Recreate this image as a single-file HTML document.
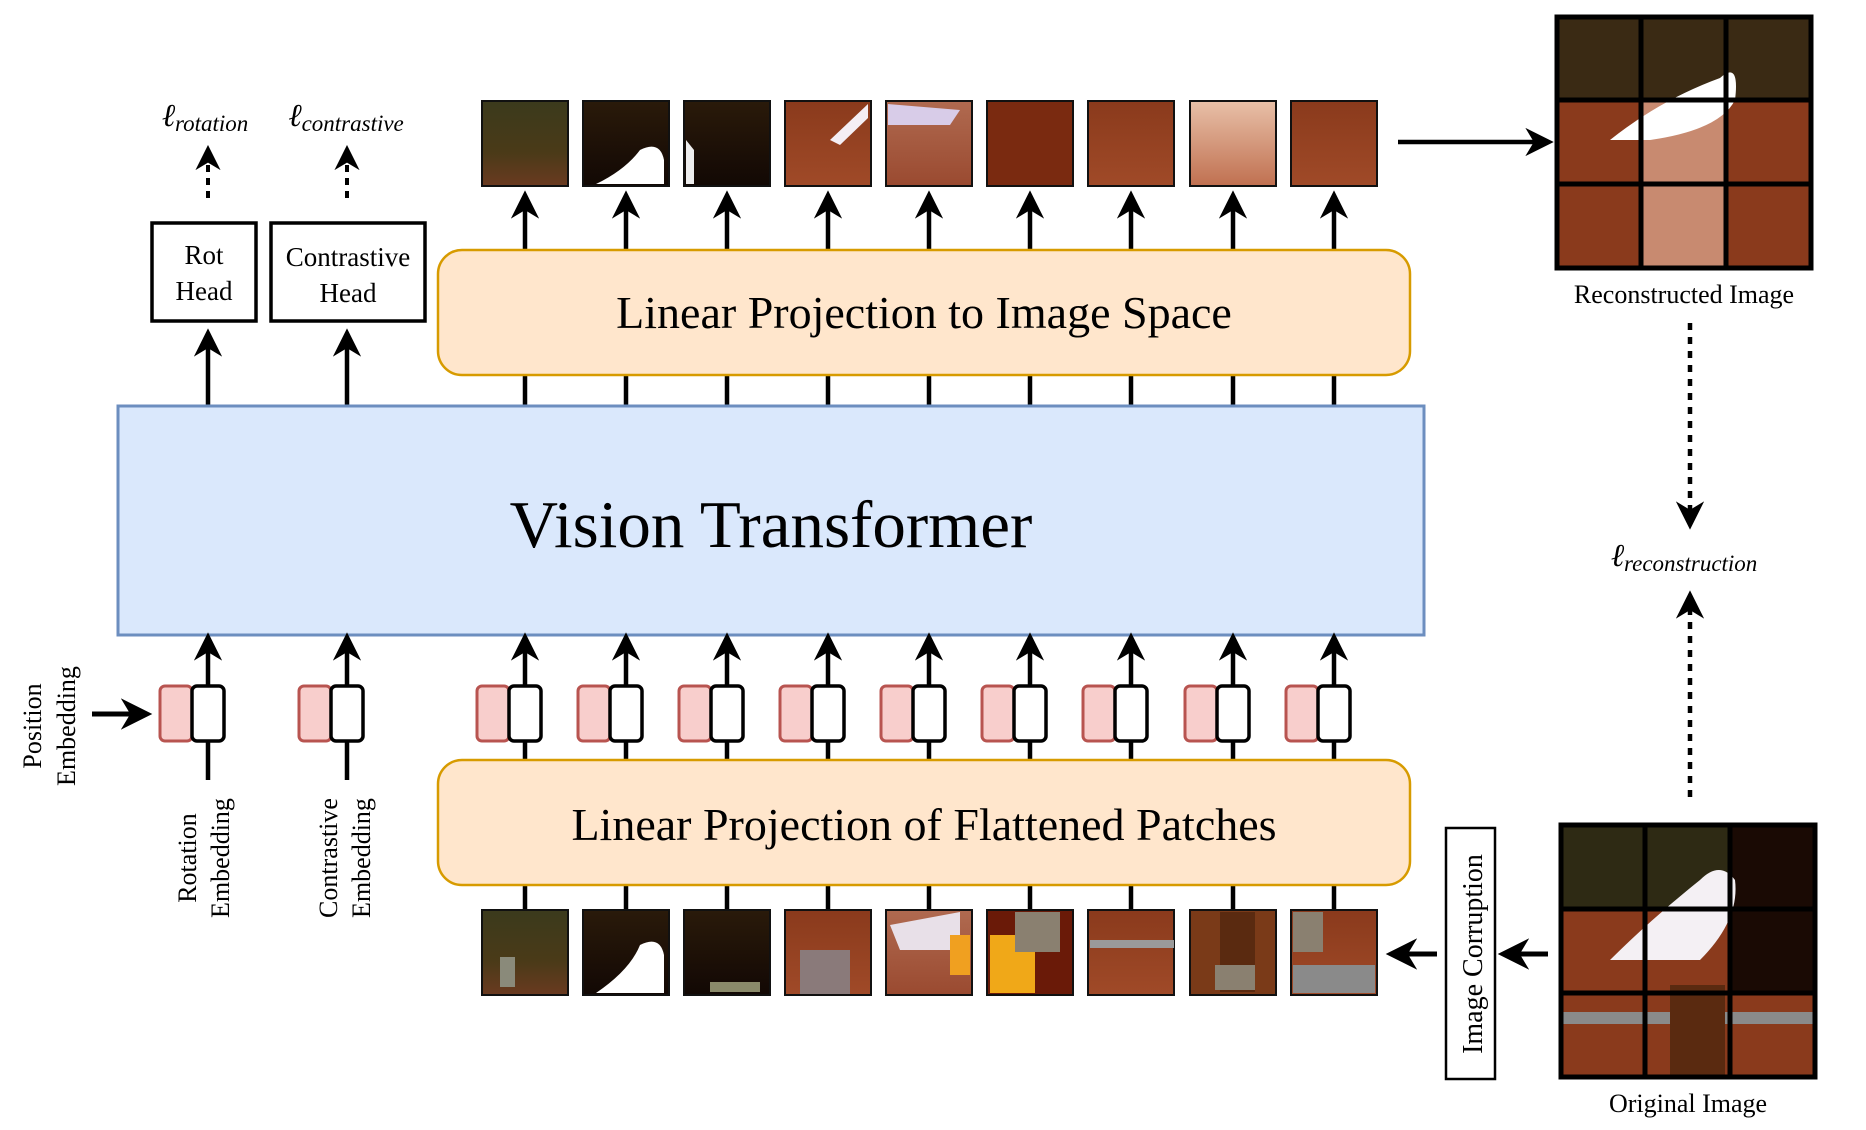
<!DOCTYPE html>
<html><head><meta charset="utf-8"><style>
html,body{margin:0;padding:0;background:#fff}
svg{display:block}
text{font-family:"Liberation Serif",serif;fill:#000}
</style></head><body>
<svg width="1866" height="1130" viewBox="0 0 1866 1130" xmlns="http://www.w3.org/2000/svg">
<defs>
<marker id="ah" viewBox="0 0 10 10" refX="8" refY="5" markerWidth="6.3" markerHeight="6.3" orient="auto-start-reverse" markerUnits="strokeWidth">
<path d="M0,0 L10,5 L0,10 L3,5 z" fill="#000"/></marker>
<linearGradient id="g1" x1="0" y1="0" x2="0" y2="1"><stop offset="0" stop-color="#3b3a1c"/><stop offset="0.6" stop-color="#4a3a18"/><stop offset="1" stop-color="#6a3a20"/></linearGradient>
<linearGradient id="g2" x1="0" y1="0" x2="0" y2="1"><stop offset="0" stop-color="#2a1a0a"/><stop offset="1" stop-color="#120804"/></linearGradient>
<linearGradient id="g3" x1="0" y1="0" x2="0" y2="1"><stop offset="0" stop-color="#8a3a1c"/><stop offset="1" stop-color="#a04a28"/></linearGradient>
<linearGradient id="g4" x1="0" y1="0" x2="0" y2="1"><stop offset="0" stop-color="#b06a50"/><stop offset="1" stop-color="#9a4a30"/></linearGradient>
<linearGradient id="g5" x1="0" y1="0" x2="0" y2="1"><stop offset="0" stop-color="#e8c0a8"/><stop offset="1" stop-color="#c07050"/></linearGradient>
</defs>

<!-- loss labels -->
<text x="205" y="126" font-size="32" font-style="italic" text-anchor="middle">ℓ<tspan font-size="23" dy="5">rotation</tspan></text>
<text x="346" y="126" font-size="32" font-style="italic" text-anchor="middle">ℓ<tspan font-size="23" dy="5">contrastive</tspan></text>
<line x1="208" y1="198" x2="208" y2="150" stroke="#000" stroke-width="4" stroke-dasharray="7,6" marker-end="url(#ah)"/>
<line x1="347" y1="198" x2="347" y2="150" stroke="#000" stroke-width="4" stroke-dasharray="7,6" marker-end="url(#ah)"/>

<!-- heads -->
<rect x="152" y="223" width="104" height="98" fill="#fff" stroke="#000" stroke-width="3.5"/>
<text x="204" y="264" font-size="27" text-anchor="middle">Rot</text>
<text x="204" y="300" font-size="27" text-anchor="middle">Head</text>
<rect x="271" y="223" width="154" height="98" fill="#fff" stroke="#000" stroke-width="3.5"/>
<text x="348" y="266" font-size="27" text-anchor="middle">Contrastive</text>
<text x="348" y="302" font-size="27" text-anchor="middle">Head</text>
<line x1="208" y1="405" x2="208" y2="334" stroke="#000" stroke-width="4.5" marker-end="url(#ah)"/>
<line x1="347" y1="405" x2="347" y2="334" stroke="#000" stroke-width="4.5" marker-end="url(#ah)"/>

<!-- top column lines -->
<g stroke="#000" stroke-width="4.5">
<line x1="525" y1="405" x2="525" y2="196" marker-end="url(#ah)"/>
<line x1="626" y1="405" x2="626" y2="196" marker-end="url(#ah)"/>
<line x1="727" y1="405" x2="727" y2="196" marker-end="url(#ah)"/>
<line x1="828" y1="405" x2="828" y2="196" marker-end="url(#ah)"/>
<line x1="929" y1="405" x2="929" y2="196" marker-end="url(#ah)"/>
<line x1="1030" y1="405" x2="1030" y2="196" marker-end="url(#ah)"/>
<line x1="1131" y1="405" x2="1131" y2="196" marker-end="url(#ah)"/>
<line x1="1233" y1="405" x2="1233" y2="196" marker-end="url(#ah)"/>
<line x1="1334" y1="405" x2="1334" y2="196" marker-end="url(#ah)"/>
</g>

<!-- top orange -->
<rect x="438" y="250" width="972" height="125" rx="24" fill="#ffe6cc" stroke="#d79b00" stroke-width="2.5"/>
<text x="924" y="328" font-size="46" text-anchor="middle">Linear Projection to Image Space</text>

<!-- top patches -->
<g stroke="#111" stroke-width="2">
<rect x="482" y="101" width="86" height="85" fill="url(#g1)"/>
<rect x="583" y="101" width="86" height="85" fill="url(#g2)"/>
<rect x="684" y="101" width="86" height="85" fill="url(#g2)"/>
<rect x="785" y="101" width="86" height="85" fill="url(#g3)"/>
<rect x="886" y="101" width="86" height="85" fill="url(#g4)"/>
<rect x="987" y="101" width="86" height="85" fill="#7a2a10"/>
<rect x="1088" y="101" width="86" height="85" fill="url(#g3)"/>
<rect x="1190" y="101" width="86" height="85" fill="url(#g5)"/>
<rect x="1291" y="101" width="86" height="85" fill="url(#g3)"/>
</g>
<path d="M596,184 Q625,170 640,150 Q660,140 664,160 L664,184 Z" fill="#fff"/>
<path d="M686,140 L694,150 L694,184 L686,184 Z" fill="#eee"/>
<path d="M830,140 L868,104 L868,118 L840,145 Z" fill="#f4eef4"/>
<path d="M888,104 L960,110 L950,125 L888,125 Z" fill="#d8cce8"/>

<!-- arrow to recon -->
<line x1="1398" y1="142" x2="1548" y2="142" stroke="#000" stroke-width="4.5" marker-end="url(#ah)"/>

<!-- reconstructed image -->
<rect x="1555" y="15" width="258" height="255" fill="#8a3a1c"/>
<rect x="1555" y="15" width="258" height="85" fill="#3a2a14"/>
<rect x="1640" y="100" width="86" height="170" fill="#c88a70"/>
<path d="M1610,140 Q1660,100 1720,78 Q1740,60 1735,100 Q1720,130 1650,140 Z" fill="#fff"/>
<g stroke="#000" stroke-width="5" fill="none">
<rect x="1557" y="17" width="254" height="251"/>
<line x1="1641" y1="17" x2="1641" y2="268"/><line x1="1726" y1="17" x2="1726" y2="268"/>
<line x1="1557" y1="100" x2="1811" y2="100"/><line x1="1557" y1="184" x2="1811" y2="184"/>
</g>
<text x="1684" y="303" font-size="26" text-anchor="middle">Reconstructed Image</text>

<!-- recon loss -->
<line x1="1690" y1="323" x2="1690" y2="524" stroke="#000" stroke-width="4.5" stroke-dasharray="7,7" marker-end="url(#ah)"/>
<text x="1684" y="566" font-size="32" font-style="italic" text-anchor="middle">ℓ<tspan font-size="23" dy="5">reconstruction</tspan></text>
<line x1="1690" y1="797" x2="1690" y2="596" stroke="#000" stroke-width="4.5" stroke-dasharray="7,7" marker-end="url(#ah)"/>

<!-- ViT -->
<rect x="118" y="406" width="1306" height="229" fill="#dae8fc" stroke="#6c8ebf" stroke-width="3"/>
<text x="771" y="547" font-size="67" text-anchor="middle">Vision Transformer</text>

<!-- bottom lines -->
<g stroke="#000" stroke-width="4.5">
<line x1="208" y1="780" x2="208" y2="638" marker-end="url(#ah)"/>
<line x1="347" y1="780" x2="347" y2="638" marker-end="url(#ah)"/>
<line x1="525" y1="910" x2="525" y2="638" marker-end="url(#ah)"/>
<line x1="626" y1="910" x2="626" y2="638" marker-end="url(#ah)"/>
<line x1="727" y1="910" x2="727" y2="638" marker-end="url(#ah)"/>
<line x1="828" y1="910" x2="828" y2="638" marker-end="url(#ah)"/>
<line x1="929" y1="910" x2="929" y2="638" marker-end="url(#ah)"/>
<line x1="1030" y1="910" x2="1030" y2="638" marker-end="url(#ah)"/>
<line x1="1131" y1="910" x2="1131" y2="638" marker-end="url(#ah)"/>
<line x1="1233" y1="910" x2="1233" y2="638" marker-end="url(#ah)"/>
<line x1="1334" y1="910" x2="1334" y2="638" marker-end="url(#ah)"/>
</g>

<!-- tokens -->
<g>
<g transform="translate(208,0)"><rect x="-48" y="686" width="32" height="55" rx="5" fill="#f8cecc" stroke="#b85450" stroke-width="3"/><rect x="-16" y="686" width="32" height="55" rx="5" fill="#fff" stroke="#000" stroke-width="3.5"/></g>
<g transform="translate(347,0)"><rect x="-48" y="686" width="32" height="55" rx="5" fill="#f8cecc" stroke="#b85450" stroke-width="3"/><rect x="-16" y="686" width="32" height="55" rx="5" fill="#fff" stroke="#000" stroke-width="3.5"/></g>
<g transform="translate(525,0)"><rect x="-48" y="686" width="32" height="55" rx="5" fill="#f8cecc" stroke="#b85450" stroke-width="3"/><rect x="-16" y="686" width="32" height="55" rx="5" fill="#fff" stroke="#000" stroke-width="3.5"/></g>
<g transform="translate(626,0)"><rect x="-48" y="686" width="32" height="55" rx="5" fill="#f8cecc" stroke="#b85450" stroke-width="3"/><rect x="-16" y="686" width="32" height="55" rx="5" fill="#fff" stroke="#000" stroke-width="3.5"/></g>
<g transform="translate(727,0)"><rect x="-48" y="686" width="32" height="55" rx="5" fill="#f8cecc" stroke="#b85450" stroke-width="3"/><rect x="-16" y="686" width="32" height="55" rx="5" fill="#fff" stroke="#000" stroke-width="3.5"/></g>
<g transform="translate(828,0)"><rect x="-48" y="686" width="32" height="55" rx="5" fill="#f8cecc" stroke="#b85450" stroke-width="3"/><rect x="-16" y="686" width="32" height="55" rx="5" fill="#fff" stroke="#000" stroke-width="3.5"/></g>
<g transform="translate(929,0)"><rect x="-48" y="686" width="32" height="55" rx="5" fill="#f8cecc" stroke="#b85450" stroke-width="3"/><rect x="-16" y="686" width="32" height="55" rx="5" fill="#fff" stroke="#000" stroke-width="3.5"/></g>
<g transform="translate(1030,0)"><rect x="-48" y="686" width="32" height="55" rx="5" fill="#f8cecc" stroke="#b85450" stroke-width="3"/><rect x="-16" y="686" width="32" height="55" rx="5" fill="#fff" stroke="#000" stroke-width="3.5"/></g>
<g transform="translate(1131,0)"><rect x="-48" y="686" width="32" height="55" rx="5" fill="#f8cecc" stroke="#b85450" stroke-width="3"/><rect x="-16" y="686" width="32" height="55" rx="5" fill="#fff" stroke="#000" stroke-width="3.5"/></g>
<g transform="translate(1233,0)"><rect x="-48" y="686" width="32" height="55" rx="5" fill="#f8cecc" stroke="#b85450" stroke-width="3"/><rect x="-16" y="686" width="32" height="55" rx="5" fill="#fff" stroke="#000" stroke-width="3.5"/></g>
<g transform="translate(1334,0)"><rect x="-48" y="686" width="32" height="55" rx="5" fill="#f8cecc" stroke="#b85450" stroke-width="3"/><rect x="-16" y="686" width="32" height="55" rx="5" fill="#fff" stroke="#000" stroke-width="3.5"/></g>
</g>

<!-- position embedding -->
<line x1="92" y1="714" x2="146" y2="714" stroke="#000" stroke-width="5" marker-end="url(#ah)"/>
<text transform="translate(41,726) rotate(-90)" font-size="26" text-anchor="middle">Position</text>
<text transform="translate(75,726) rotate(-90)" font-size="26" text-anchor="middle">Embedding</text>
<text transform="translate(196,858) rotate(-90)" font-size="26" text-anchor="middle">Rotation</text>
<text transform="translate(229,858) rotate(-90)" font-size="26" text-anchor="middle">Embedding</text>
<text transform="translate(337,858) rotate(-90)" font-size="26" text-anchor="middle">Contrastive</text>
<text transform="translate(370,858) rotate(-90)" font-size="26" text-anchor="middle">Embedding</text>

<!-- bottom orange -->
<rect x="438" y="760" width="972" height="125" rx="24" fill="#ffe6cc" stroke="#d79b00" stroke-width="2.5"/>
<text x="924" y="840" font-size="46" text-anchor="middle">Linear Projection of Flattened Patches</text>

<!-- bottom patches -->
<g stroke="#111" stroke-width="2">
<rect x="482" y="910" width="86" height="85" fill="url(#g1)"/>
<rect x="583" y="910" width="86" height="85" fill="url(#g2)"/>
<rect x="684" y="910" width="86" height="85" fill="url(#g2)"/>
<rect x="785" y="910" width="86" height="85" fill="url(#g3)"/>
<rect x="886" y="910" width="86" height="85" fill="url(#g4)"/>
<rect x="987" y="910" width="86" height="85" fill="#6a1a08"/>
<rect x="1088" y="910" width="86" height="85" fill="url(#g3)"/>
<rect x="1190" y="910" width="86" height="85" fill="#7a3a18"/>
<rect x="1291" y="910" width="86" height="85" fill="url(#g3)"/>
</g>
<rect x="500" y="957" width="15" height="30" fill="#8a8a7a"/>
<path d="M596,993 Q630,970 640,945 Q660,935 664,955 L664,993 Z" fill="#fff"/>
<rect x="710" y="982" width="50" height="10" fill="#8a8a6a"/>
<rect x="800" y="950" width="50" height="44" fill="#8a7a7a"/>
<path d="M890,925 L960,912 L960,950 L900,950 Z" fill="#e8e0e8"/>
<rect x="950" y="935" width="20" height="40" fill="#f0a020"/>
<rect x="990" y="935" width="45" height="58" fill="#f0a818"/>
<rect x="1015" y="912" width="45" height="40" fill="#8a8070"/>
<rect x="1090" y="940" width="84" height="8" fill="#9a9a9a"/>
<rect x="1220" y="912" width="35" height="80" fill="#5a2a10"/>
<rect x="1215" y="965" width="40" height="25" fill="#8a8070"/>
<rect x="1293" y="912" width="30" height="40" fill="#8a8070"/>
<rect x="1293" y="965" width="82" height="28" fill="#8a8a8a"/>

<!-- corruption -->
<line x1="1437" y1="954" x2="1392" y2="954" stroke="#000" stroke-width="5" marker-end="url(#ah)"/>
<rect x="1446" y="828" width="49" height="251" fill="#fff" stroke="#000" stroke-width="2.5"/>
<text transform="translate(1482,954) rotate(-90)" font-size="28" text-anchor="middle">Image Corruption</text>
<line x1="1548" y1="954" x2="1504" y2="954" stroke="#000" stroke-width="5" marker-end="url(#ah)"/>

<!-- original image -->
<rect x="1559" y="823" width="258" height="256" fill="#8a3a1c"/>
<rect x="1559" y="823" width="258" height="85" fill="#2e2a14"/>
<rect x="1730" y="823" width="87" height="170" fill="#1a0a04"/>
<rect x="1559" y="1012" width="258" height="12" fill="#8a8a8a"/>
<rect x="1670" y="985" width="55" height="94" fill="#5a2a10"/>
<path d="M1610,960 Q1650,920 1700,880 Q1720,860 1735,880 Q1740,920 1700,960 Z" fill="#f4f0f4"/>
<g stroke="#000" stroke-width="5" fill="none">
<rect x="1561" y="825" width="254" height="252"/>
<line x1="1645" y1="825" x2="1645" y2="1077"/><line x1="1730" y1="825" x2="1730" y2="1077"/>
<line x1="1561" y1="909" x2="1815" y2="909"/><line x1="1561" y1="993" x2="1815" y2="993"/>
</g>
<text x="1688" y="1112" font-size="26" text-anchor="middle">Original Image</text>
</svg>
</body></html>
